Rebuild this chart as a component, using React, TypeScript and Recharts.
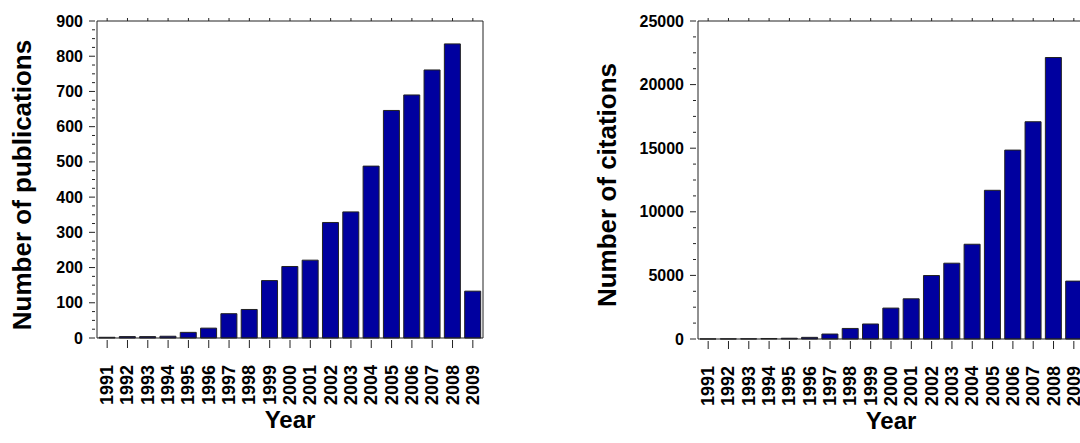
import React from 'react';
import { BarChart, Bar, XAxis, YAxis } from 'recharts';

const years = [
  '1991', '1992', '1993', '1994', '1995', '1996', '1997', '1998', '1999', '2000',
  '2001', '2002', '2003', '2004', '2005', '2006', '2007', '2008', '2009',
];
const publications = [2, 4, 4, 5, 16, 28, 69, 81, 163, 203, 221, 328, 358, 488, 646, 690, 761, 835, 133];
const citations = [
  5, 10, 15, 40, 60, 130, 390, 830, 1180, 2430, 3160, 4990, 5960, 7450, 11690, 14850, 17080, 22130, 4550,
];

const pubTicks = [0, 100, 200, 300, 400, 500, 600, 700, 800, 900];
const citeTicks = [0, 5000, 10000, 15000, 20000, 25000];

const FONT = '"Liberation Sans", Arial, Helvetica, sans-serif';
const INK = '#222';
const BAR_FILL = '#00009f';

// majors plus 3 minor ticks in between, like the original plot
const withMinors = (majors: number[]) => {
  const step = (majors[1] - majors[0]) / 4;
  return majors.flatMap((m, i) => (i === majors.length - 1 ? [m] : [m, m + step, m + 2 * step, m + 3 * step]));
};

const LeftTick = (props: any) => {
  const { x, y, payload, majors } = props;
  const major = majors.includes(payload.value);
  return (
    <g>
      <line x1={x - (major ? 6 : 3)} x2={x} y1={y} y2={y} stroke={INK} />
      {major && (
        <text x={x - 12} y={y} textAnchor="end" dominantBaseline="central" fontFamily={FONT} fontWeight="bold" fontSize={16} fill="#000">
          {payload.value}
        </text>
      )}
    </g>
  );
};

const RightTick = (props: any) => {
  const { x, y, payload, majors } = props;
  const major = majors.includes(payload.value);
  return <line x1={x} x2={x + (major ? 3 : 2)} y1={y} y2={y} stroke={INK} />;
};

const BottomTick = (props: any) => {
  const { x, y, payload } = props;
  const ty = y + 25;
  return (
    <g>
      <line x1={x} x2={x} y1={y} y2={y + 8} stroke={INK} />
      <text
        x={x}
        y={ty}
        transform={`rotate(-90, ${x}, ${ty})`}
        textAnchor="end"
        dominantBaseline="central"
        fontFamily={FONT}
        fontWeight="bold"
        fontSize={18}
        fill="#000"
      >
        {payload.value}
      </text>
    </g>
  );
};

const TopTick = (props: any) => {
  const { x, y } = props;
  return <line x1={x} x2={x} y1={y - 1} y2={y + 2} stroke={INK} />;
};

interface PanelProps {
  values: number[];
  yTicks: number[];
  yTitle: string;
  left: number;
  width: number;
  yAxisWidth: number;
  marginRight: number;
  xAxisHeight: number;
  titleX: number;
}

const Panel: React.FC<PanelProps> = ({ values, yTicks, yTitle, left, width, yAxisWidth, marginRight, xAxisHeight, titleX }) => {
  const data = years.map((year, i) => ({ year, value: values[i] }));
  const allTicks = withMinors(yTicks);
  const domain: [number, number] = [0, yTicks[yTicks.length - 1]];

  return (
    <div style={{ position: 'absolute', left, top: 0 }}>
      <BarChart width={width} height={443} data={data} margin={{ top: 20, right: marginRight, bottom: 0, left: 0 }} barSize={16}>
        <XAxis
          dataKey="year"
          interval={0}
          tickSize={0}
          tickLine={false}
          axisLine={{ stroke: INK }}
          height={xAxisHeight}
          tick={(p: any) => <BottomTick {...p} />}
          label={{
            content: (p: any) => {
              const vb = p.viewBox;
              return (
                <text x={vb.x + vb.width / 2} y={vb.y + 81} textAnchor="middle" dominantBaseline="central" fontFamily={FONT} fontWeight="bold" fontSize={24} fill="#000">
                  Year
                </text>
              );
            },
          }}
        />
        <XAxis
          xAxisId="top"
          dataKey="year"
          orientation="top"
          interval={0}
          tickSize={0}
          tickLine={false}
          axisLine={{ stroke: INK }}
          height={1}
          tick={(p: any) => <TopTick {...p} />}
        />
        <YAxis
          type="number"
          domain={domain}
          ticks={allTicks}
          interval={0}
          tickSize={0}
          tickLine={false}
          axisLine={{ stroke: INK }}
          width={yAxisWidth}
          tick={(p: any) => <LeftTick {...p} majors={yTicks} />}
          label={{
            content: () => (
              <text
                x={titleX}
                y={185}
                transform={`rotate(-90, ${titleX}, 185)`}
                textAnchor="middle"
                dominantBaseline="central"
                fontFamily={FONT}
                fontWeight="bold"
                fontSize={26}
                fill="#000"
              >
                {yTitle}
              </text>
            ),
          }}
        />
        <YAxis
          yAxisId="right"
          orientation="right"
          type="number"
          domain={domain}
          ticks={allTicks}
          interval={0}
          tickSize={0}
          tickLine={false}
          axisLine={{ stroke: INK }}
          width={1}
          tick={(p: any) => <RightTick {...p} majors={yTicks} />}
        />
        <Bar dataKey="value" fill={BAR_FILL} stroke={INK} strokeWidth={1} isAnimationActive={false} />
      </BarChart>
    </div>
  );
};

export default function App() {
  return (
    <div style={{ position: 'absolute', left: 0, top: 0, width: 1080, height: 443, overflow: 'hidden', background: '#fff' }}>
      <Panel
        values={publications}
        yTicks={pubTicks}
        yTitle="Number of publications"
        left={0}
        width={500}
        yAxisWidth={97}
        marginRight={16}
        xAxisHeight={105}
        titleX={22}
      />
      <Panel
        values={citations}
        yTicks={citeTicks}
        yTitle="Number of citations"
        left={580}
        width={520}
        yAxisWidth={118}
        marginRight={15}
        xAxisHeight={104}
        titleX={27}
      />
    </div>
  );
}
